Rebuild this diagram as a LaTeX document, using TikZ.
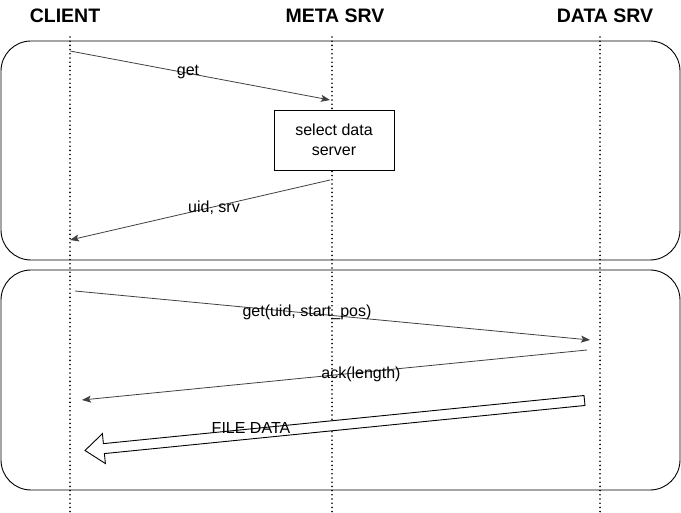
\documentclass[tikz,border=0pt]{standalone}
\usepackage{fontspec}
\setmainfont{Liberation Sans}
\usetikzlibrary{calc,arrows.meta}
\begin{document}
\begin{tikzpicture}[x=1pt,y=-1pt,
  hdr/.style={font=\fontsize{19.5}{22}\selectfont\bfseries, anchor=center},
  lbl/.style={font=\fontsize{16}{19}\selectfont, anchor=center, inner sep=0pt},
  lifeline/.style={line width=1.8pt, line cap=round, dash pattern=on 0pt off 4.2pt},
  frame/.style={draw=black, line width=0.9pt, rounded corners=30pt},
  msg/.style={draw=black!75, line width=0.8pt, -{Stealth[length=9pt,width=7pt,inset=2pt]}},
  procbox/.style={draw=black, line width=0.9pt, minimum width=120pt, minimum height=60pt, align=center, font=\fontsize{16}{20}\selectfont, inner sep=0pt}
]
\useasboundingbox (0,0) rectangle (681,513);
% frames
\draw[frame] (1,41) rectangle (680,260);
\draw[frame] (1,270) rectangle (680,490);
% headers
\node[hdr] (hc) at (65,16) {CLIENT};
\node[hdr] (hm) at (335,16) {META SRV};
\node[hdr] (hd) at (605,16) {DATA SRV};
% lifelines
\coordinate (c0) at (70,37); \coordinate (c1) at (70,513);
\coordinate (m0) at (332,37); \coordinate (m1) at (332,513);
\coordinate (d0) at (600,37); \coordinate (d1) at (600,513);
\draw[lifeline] (c0) -- (c1);
\draw[lifeline] (m0) -- (m1);
\draw[lifeline] (d0) -- (d1);
% process box
\node[procbox, fill=white] (sel) at (334,140) {select data\\server};
% messages
\coordinate (g0) at (70,51); \coordinate (g1) at (330,100);
\draw[msg] (g0) -- (g1);
\node[lbl] (lget) at (188,72) {get};
\coordinate (u0) at (330,180); \coordinate (u1) at (70,240);
\draw[msg] (u0) -- (u1);
\node[lbl] (luid) at (214,208) {uid, srv};
\coordinate (s0) at (75,291); \coordinate (s1) at (590,340);
\draw[msg] (s0) -- (s1);
\node[lbl] (lsp) at (307,312) {get(uid, start\_pos)};
\coordinate (a0) at (587,350); \coordinate (a1) at (82,400);
\draw[msg] (a0) -- (a1);
\node[lbl] (lack) at (361,374) {ack(length)};
% big arrow FILE DATA
\coordinate (ft) at (584.5,400.5);
\coordinate (fh) at (85,450.5);
\coordinate (hb) at ($(fh)!19pt!(ft)$);
\draw[line width=0.9pt, line join=miter, fill=white]
  ($(ft)!5pt!90:(fh)$) -- ($(hb)!5pt!-90:(ft)$) -- ($(hb)!15pt!-90:(ft)$) -- (fh)
  -- ($(hb)!15pt!90:(ft)$) -- ($(hb)!5pt!90:(ft)$) -- ($(ft)!5pt!-90:(fh)$) -- cycle;
\node[lbl] (lfd) at (251,428) {FILE DATA};
\end{tikzpicture}
\end{document}
